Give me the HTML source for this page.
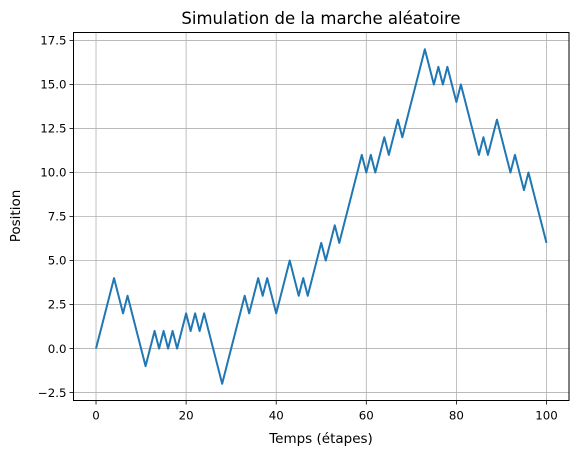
<!DOCTYPE html>
<html><head><meta charset="utf-8"><style>
body{margin:0;background:#fff;}
svg text{font-family:"DejaVu Sans","Liberation Sans",sans-serif;fill:#000;}
</style></head><body>
<svg id="chart" width="578" height="455" xmlns="http://www.w3.org/2000/svg">
<text x="321" y="24" font-size="16.5" text-anchor="middle">Simulation de la marche aléatoire</text>
<g id="grid"></g>
<g id="ticks"></g>
<polyline id="line" fill="none" stroke="#1f77b4" stroke-width="2" stroke-linejoin="round"/>
<rect x="73.5" y="32.5" width="495.5" height="368" fill="none" stroke="#000" stroke-width="1"/>
<text x="321" y="443" font-size="13.5" text-anchor="middle">Temps (étapes)</text>
<text x="20" y="216" font-size="13.5" text-anchor="middle" transform="rotate(-90 20 216)">Position</text>
</svg>
<script>
const steps = [0,1,2,3,4,3,2,3,2,1,0,-1,0,1,0,1,0,1,0,1,2,1,2,1,2,1,0,-1,-2,-1,0,1,2,3,2,3,4,3,4,3,2,3,4,5,4,3,4,3,4,5,6,5,6,7,6,7,8,9,10,11,10,11,10,11,12,11,12,13,12,13,14,15,16,17,16,15,16,15,16,15,14,15,14,13,12,11,12,11,12,13,12,11,10,11,10,9,10,9,8,7,6];
const xTicks = [0,20,40,60,80,100];
const yTicks = [-2.5,0,2.5,5,7.5,10,12.5,15,17.5];
const yTickLabels = ["−2.5","0.0","2.5","5.0","7.5","10.0","12.5","15.0","17.5"];
const L=73.5,R=569,T=32.5,B=400.5;
const xs=v=>L+(v+5)/110*(R-L);
const ys=v=>B-(v+2.95)/20.9*(B-T);
const NS="http://www.w3.org/2000/svg";
const grid=document.getElementById('grid'), ticks=document.getElementById('ticks');
function mk(tag,attrs,parent){const e=document.createElementNS(NS,tag);for(const k in attrs)e.setAttribute(k,attrs[k]);parent.appendChild(e);return e;}
xTicks.forEach(t=>{const x=xs(t);
 const g=mk('line',{x1:x,x2:x,y1:T,y2:B,stroke:'#b0b0b0','stroke-width':0.8},grid);
 
 
 const k=mk('line',{x1:x,x2:x,y1:B,y2:B+4,stroke:'#000','stroke-width':0.8},ticks);
 
 
 const tx=mk('text',{x:x,y:B+19,'font-size':11.8,'text-anchor':'middle'},ticks);tx.textContent=t;
 
 
});
yTicks.forEach((t,i)=>{const y=ys(t);
 const g=mk('line',{x1:L,x2:R,y1:y,y2:y,stroke:'#b0b0b0','stroke-width':0.8},grid);
 
 
 const k=mk('line',{x1:L-4,x2:L,y1:y,y2:y,stroke:'#000','stroke-width':0.8},ticks);
 
 
 const tx=mk('text',{x:L-7,y:y+4.2,'font-size':11.8,'text-anchor':'end'},ticks);tx.textContent=yTickLabels[i];
 
 
});
document.getElementById('line').setAttribute('points',steps.map((v,i)=>xs(i).toFixed(2)+','+ys(v).toFixed(2)).join(' '));
</script>
</body></html>
